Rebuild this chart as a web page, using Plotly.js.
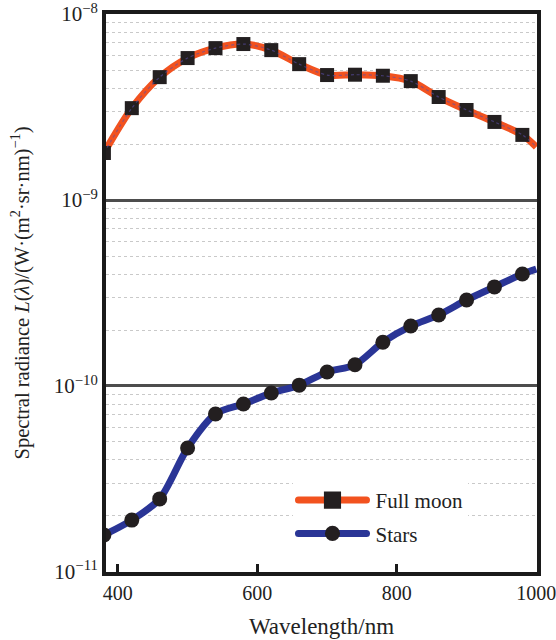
<!DOCTYPE html>
<html>
<head>
<meta charset="utf-8">
<script src="https://cdn.plot.ly/plotly-3.0.1.min.js"></script>
<style>
  html, body { margin: 0; padding: 0; background: #fff; }
  #chart { width: 556px; height: 640px; }
</style>
</head>
<body>
<div id="chart"></div>
<script>
// Wavelength samples (nm); the final sample closes the curve at the right edge
const wavelength = [380, 420, 460, 500, 540, 580, 620, 660, 700, 740, 780, 820, 860, 900, 940, 980, 1000];

// Spectral radiance, W/(m^2·sr·nm)
const fullMoon = [1.79e-9, 3.12e-9, 4.58e-9, 5.80e-9, 6.56e-9, 6.90e-9, 6.40e-9, 5.38e-9,
                  4.70e-9, 4.72e-9, 4.66e-9, 4.36e-9, 3.58e-9, 3.05e-9, 2.63e-9, 2.24e-9, 1.93e-9];
const stars = [1.58e-11, 1.90e-11, 2.47e-11, 4.64e-11, 7.07e-11, 8.00e-11, 9.16e-11, 1.01e-10,
               1.19e-10, 1.30e-10, 1.72e-10, 2.10e-10, 2.41e-10, 2.90e-10, 3.41e-10, 4.00e-10, 4.26e-10];

const seriesNames = ['Full moon', 'Stars'];

// Axis ticks
const xTickVals = [400, 600, 800, 1000];
const xTickText = ['400', '600', '800', '1000'];
const yTickVals = [1e-11, 1e-10, 1e-9, 1e-8];
const yTickText = ['10<sup>−11</sup>', '10<sup>−10</sup>', '10<sup>−9</sup>', '10<sup>−8</sup>'];

// markers every 40 nm; the closing edge sample carries no marker
const markerOn = wavelength.map(w => (w - 380) % 40 === 0);

// dotted minor grid at 2..9 × each decade
const minorVals = [];
for (let e = -11; e < -8; e++) {
  for (let m = 2; m <= 9; m++) minorVals.push(m * Math.pow(10, e));
}

const serif = 'Liberation Serif, Times New Roman, serif';
const ink = '#222';

const traces = [
  {
    x: wavelength, y: fullMoon, name: seriesNames[0], legendgroup: 'moon',
    mode: 'lines+markers',
    line: { color: '#F2521F', width: 7, shape: 'spline', smoothing: 0.8 },
    marker: { symbol: 'square', color: '#231F20', opacity: 1,
              size: markerOn.map(on => on ? 14 : 0), line: { width: 0 } }
  },
  {
    x: wavelength, y: fullMoon, showlegend: false, hoverinfo: 'skip', legendgroup: 'moon',
    mode: 'lines',
    line: { color: '#5B4FA8', width: 1.2, dash: 'dot', shape: 'spline', smoothing: 0.8 },
    opacity: 0.6
  },
  {
    x: wavelength, y: stars, name: seriesNames[1], legendgroup: 'stars',
    mode: 'lines+markers',
    line: { color: '#2A3596', width: 7, shape: 'spline', smoothing: 0.8 },
    marker: { symbol: 'circle', color: '#231F20', opacity: 1,
              size: markerOn.map(on => on ? 15 : 0), line: { width: 0 } }
  }
];

const layout = {
  width: 556, height: 640,
  margin: { l: 106, r: 19, t: 14, b: 68 },
  paper_bgcolor: '#fff', plot_bgcolor: '#fff',
  font: { family: serif, size: 20, color: ink },
  showlegend: true,
  legend: {
    x: 0.435, y: 0.165, xanchor: 'left', yanchor: 'top',
    bgcolor: '#fff', borderwidth: 0,
    font: { family: serif, size: 21, color: ink },
    itemwidth: 72, tracegroupgap: 3, traceorder: 'grouped'
  },
  xaxis: {
    type: 'linear', range: [383, 1001],
    tickmode: 'array', tickvals: xTickVals, ticktext: xTickText,
    ticks: 'inside', ticklen: 8, tickwidth: 3, tickcolor: '#1a1a1a',
    ticklabeloverflow: 'allow',
    showgrid: false, zeroline: false,
    showline: true, linewidth: 4, linecolor: '#1a1a1a', mirror: true,
    tickfont: { family: serif, size: 20, color: ink },
    title: { text: 'Wavelength/nm', font: { family: serif, size: 23, color: ink }, standoff: 16 }
  },
  yaxis: {
    type: 'log', range: [-11.0004, -7.9996],
    tickmode: 'array', tickvals: yTickVals, ticktext: yTickText,
    ticks: '', ticklabeloverflow: 'allow',
    showgrid: true, gridcolor: '#4d4d4d', gridwidth: 3,
    minor: { tickmode: 'array', tickvals: minorVals, ticks: '', showgrid: true,
             gridcolor: '#c9c9c9', gridwidth: 1, griddash: 'dot' },
    zeroline: false,
    showline: true, linewidth: 4, linecolor: '#1a1a1a', mirror: true,
    tickfont: { family: serif, size: 21, color: ink },
    title: { text: 'Spectral radiance <i>L</i>(<i>λ</i>)/(W·(m<sup>2</sup>·sr·nm)<sup>−1</sup>)\u00a0\u00a0\u00a0',
             font: { family: serif, size: 20.5, color: ink }, standoff: 20 }
  }
};

// Legend samples: longer rounded line with the marker centred on it
const legendMarkerScale = [1.3, 1.07];

Plotly.newPlot('chart', traces, layout, { displayModeBar: false, staticPlot: true }).then(gd => {
  gd.querySelectorAll('.legend .traces').forEach((item, i) => {
    item.querySelectorAll('path.js-line').forEach(p => {
      p.setAttribute('d', 'M5,0h68');
      p.style.strokeLinecap = 'round';
    });
    item.querySelectorAll('.legendpoints path.scatterpts').forEach(p => {
      p.setAttribute('transform', 'translate(39,0) scale(' + (legendMarkerScale[i] || 1) + ')');
    });
  });
});
</script>
</body>
</html>
